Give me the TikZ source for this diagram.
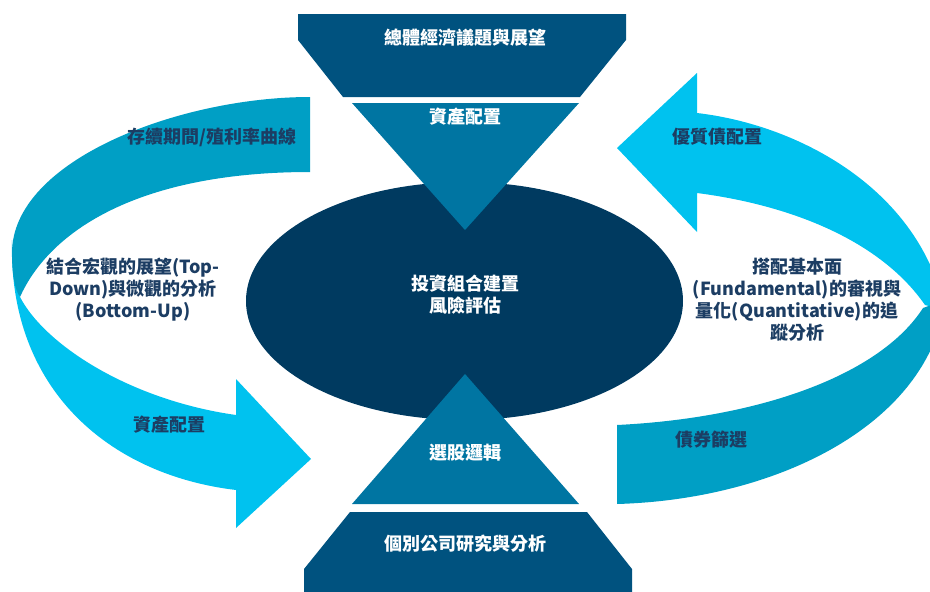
\documentclass[tikz,border=0pt]{standalone}
\usepackage{fontspec}
\setmainfont{Noto Sans CJK TC}
\definecolor{navyfill}{HTML}{003A60}
\definecolor{deepblue}{HTML}{00527F}
\definecolor{midblue}{HTML}{0075A2}
\definecolor{darkteal}{HTML}{009FC5}
\definecolor{brightcyan}{HTML}{00C2EF}
\definecolor{inkblue}{HTML}{1C3D63}
\begin{document}
\begin{tikzpicture}[x=1pt,y=-1pt,lbl/.style={font=\fontsize{18}{22}\selectfont\bfseries,text=inkblue,align=center,inner sep=0pt},wlbl/.style={lbl,text=white}]
    \useasboundingbox (0,0) rectangle (930,592);
    \fill[brightcyan](12,240)..controls(8,390)and(110,475)..(236,490)--(236,528)--(311,459)--(236,379)--(236,415)..controls(130,400)and(45,345)..(20,297)..controls(14,280)..(12,240)--cycle;
    \fill[darkteal](310,97)..controls(180,97)and(12,160)..(12,253)..controls(12,275)and(15,290)..(20,297)..controls(50,230)and(140,172)..(310,172)--cycle;
    \fill[brightcyan](697,113)..controls(800,125)and(920,190)..(945,310)--(925,305)..controls(880,240)and(790,205)..(697,193)--(697,232)--(617,148)--(697,73)--cycle;
    \fill[darkteal](617,425)..controls(760,418)and(880,375)..(923,308)--(945,300)--(945,340)--(935,340)..controls(895,440)and(760,500)..(617,504)--cycle;
    \fill[deepblue](298,14)--(626,14)--(626,40)--(580,97)--(343,97)--(298,40)--cycle;
    \fill[deepblue](350,512)--(587,512)--(632,569)--(632,592)--(304,592)--(304,569)--cycle;
    \fill[navyfill](464.5,301)ellipse[x radius=218.5,y radius=119];
    \fill[midblue](352,103)--(579,103)--(465,230)--cycle;
    \fill[midblue](465,374)--(579,504)--(352,504)--cycle;
    \node[wlbl](macro)at(465,38){總體經濟議題與展望};
    \node[wlbl](alloc)at(465,117){資產配置};
    \node[wlbl](port)at(465,295){投資組合建置\\風險評估};
    \node[wlbl](pick)at(465,453){選股邏輯};
    \node[wlbl](firm)at(465,544){個別公司研究與分析};
    \node[lbl](dur)at(212,137){存續期間/殖利率曲線};
    \node[lbl](topdown)at(133,290){結合宏觀的展望(Top-\\Down)與微觀的分析\\(Bottom-Up)};
    \node[lbl](assetl)at(169,425){資產配置};
    \node[lbl](quality)at(717,137){優質債配置};
    \node[lbl](fund)at(797,300){搭配基本面\\(Fundamental)的審視與\\量化(Quantitative)的追\\蹤分析};
    \node[lbl](screen)at(711,440){債券篩選};
  \end{tikzpicture}
\end{document}
